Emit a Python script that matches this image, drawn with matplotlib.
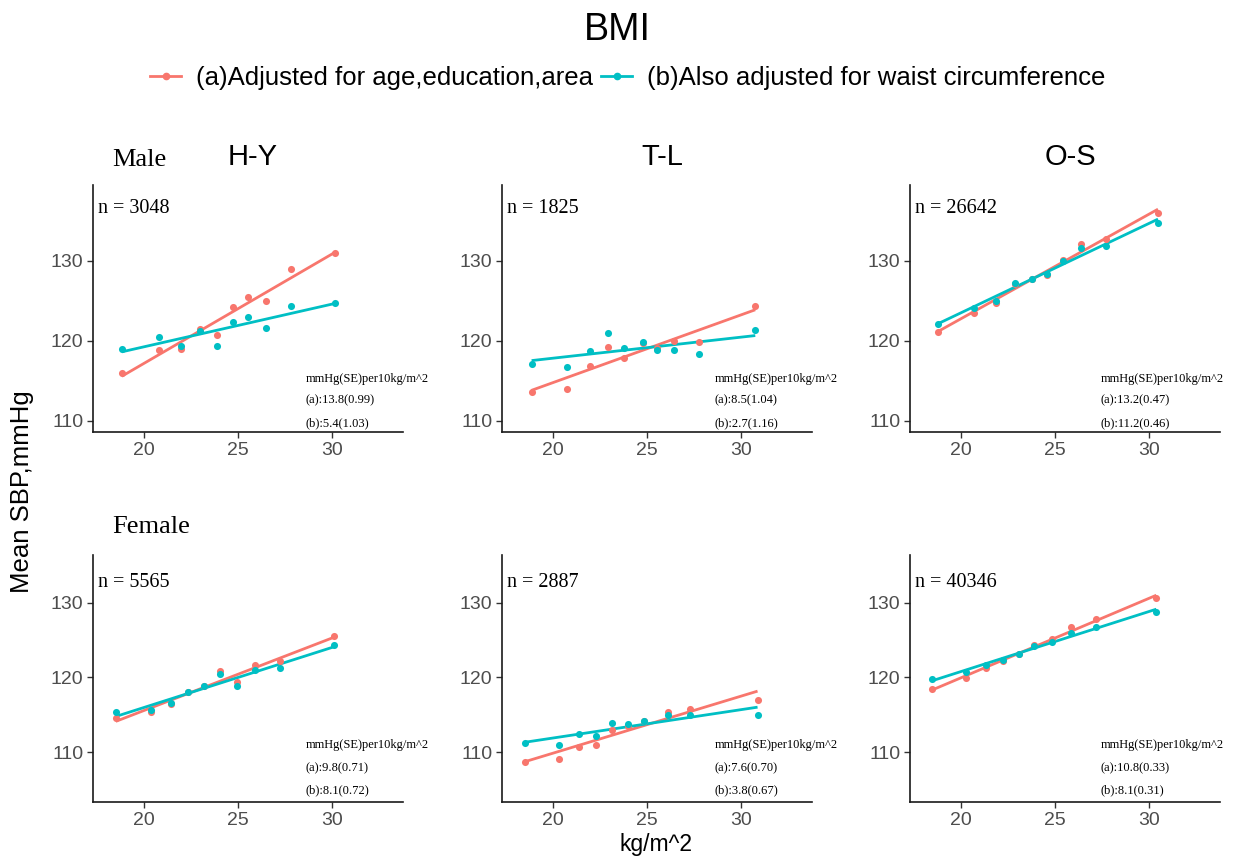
import matplotlib
matplotlib.use("Agg")
import matplotlib.pyplot as plt
import numpy as np
from matplotlib.lines import Line2D

# colours used by the two models
col_a = '#F8766D'
col_b = '#00BFC4'

# BMI group means (x) and mean SBP for model (a) and (b)
x_hy_male = [18.83, 20.78, 21.97, 22.99, 23.88, 24.75, 25.5, 26.5, 27.8, 30.16]
a_hy_male = [116.0, 118.9, 119.0, 121.5, 120.75, 124.3, 125.5, 125.0, 129.0, 131.0]
b_hy_male = [119.0, 120.5, 119.4, 121.2, 119.4, 122.4, 123.0, 121.6, 124.4, 124.75]

x_tl_male = [18.87, 20.74, 21.95, 22.94, 23.76, 24.77, 25.53, 26.45, 27.78, 30.74]
a_tl_male = [113.6, 114.0, 116.9, 119.2, 117.9, 119.7, 119.1, 120.0, 119.9, 124.4]
b_tl_male = [117.1, 116.7, 118.75, 120.95, 119.1, 119.8, 118.9, 118.8, 118.4, 121.3]

x_os_male = [18.79, 20.69, 21.88, 22.89, 23.76, 24.59, 25.41, 26.37, 27.7, 30.46]
a_os_male = [121.1, 123.5, 124.8, 127.1, 127.7, 128.3, 130.1, 132.1, 132.7, 136.0]
b_os_male = [122.1, 124.1, 125.0, 127.25, 127.7, 128.4, 130.0, 131.6, 131.9, 134.7]

x_hy_female = [18.51, 20.37, 21.44, 22.36, 23.21, 24.04, 24.93, 25.92, 27.2, 30.07]
a_hy_female = [114.6, 115.3, 116.4, 118.0, 118.8, 120.8, 119.4, 121.6, 122.2, 125.5]
b_hy_female = [115.4, 115.6, 116.5, 118.0, 118.8, 120.5, 118.8, 121.0, 121.3, 124.4]

x_tl_female = [18.54, 20.34, 21.37, 22.3, 23.15, 23.99, 24.86, 26.1, 27.29, 30.86]
a_tl_female = [108.7, 109.1, 110.7, 110.9, 113.0, 113.5, 114.2, 115.3, 115.7, 117.0]
b_tl_female = [111.2, 111.0, 112.4, 112.2, 113.9, 113.75, 114.2, 115.0, 114.95, 114.9]

x_os_female = [18.47, 20.27, 21.33, 22.25, 23.09, 23.9, 24.82, 25.83, 27.16, 30.37]
a_os_female = [118.5, 119.9, 121.2, 122.2, 123.1, 124.3, 125.1, 126.7, 127.8, 130.6]
b_os_female = [119.8, 120.75, 121.6, 122.35, 123.1, 124.2, 124.7, 126.0, 126.7, 128.8]

regions = ['H-Y', 'T-L', 'O-S']
sexes = ['Male', 'Female']
n_male = [3048, 1825, 26642]
n_female = [5565, 2887, 40346]
est_a_male = ['13.8(0.99)', '8.5(1.04)', '13.2(0.47)']
est_b_male = ['5.4(1.03)', '2.7(1.16)', '11.2(0.46)']
est_a_female = ['9.8(0.71)', '7.6(0.70)', '10.8(0.33)']
est_b_female = ['8.1(0.72)', '3.8(0.67)', '8.1(0.31)']
y_ticks = [110, 120, 130]
x_ticks = [20, 25, 30]

rows = [
    [(x_hy_male, a_hy_male, b_hy_male), (x_tl_male, a_tl_male, b_tl_male), (x_os_male, a_os_male, b_os_male)],
    [(x_hy_female, a_hy_female, b_hy_female), (x_tl_female, a_tl_female, b_tl_female), (x_os_female, a_os_female, b_os_female)],
]
ns = [n_male, n_female]
est_a = [est_a_male, est_a_female]
est_b = [est_b_male, est_b_female]

serif = ['Liberation Serif', 'DejaVu Serif']
sans = ['Liberation Sans', 'DejaVu Sans']
plt.rcParams['font.family'] = sans

W, H = 1234, 857
fig = plt.figure(figsize=(W / 100, H / 100), dpi=100)

lefts = [93, 502, 910]
bottoms = [432, 802]
ylims = [(108.6, 139.5), (103.3, 136.4)]
note_x = [28.6, 28.6, 27.4]
note_y = [[0.215, 0.128, 0.035], [0.23, 0.135, 0.048]]
n_y = [0.905, 0.89]

for r in range(2):
    for c in range(3):
        ax = fig.add_axes([lefts[c] / W, 1 - bottoms[r] / H, 310 / W, 247 / H])
        xs, ya, yb = rows[r][c]
        for yv, col in [(ya, col_a), (yb, col_b)]:
            xs_arr = np.array(xs)
            k, b0 = np.polyfit(xs_arr, np.array(yv), 1)
            xx = np.array([xs_arr.min(), xs_arr.max()])
            ax.plot(xx, k * xx + b0, color=col, lw=2, solid_capstyle='butt')
            ax.scatter(xs, yv, s=26, color=col, zorder=3, linewidths=0)
        ax.set_xlim(17.3, 33.75)
        ax.set_ylim(*ylims[r])
        ax.set_xticks(x_ticks)
        ax.set_yticks(y_ticks)
        for s in ['top', 'right']:
            ax.spines[s].set_visible(False)
        for s in ['left', 'bottom']:
            ax.spines[s].set_linewidth(1.2)
            ax.spines[s].set_color('#1a1a1a')
        ax.tick_params(direction='out', length=4, width=1.0, color='#333333',
                       labelcolor='#4D4D4D', labelsize=14, pad=3)
        ax.text(0.016, n_y[r], 'n = %d' % ns[r][c], transform=ax.transAxes,
                family=serif, fontsize=14.5, va='center', ha='left')
        notes = ['mmHg(SE)per10kg/m^2', '(a):' + est_a[r][c], '(b):' + est_b[r][c]]
        for t, yy in zip(notes, note_y[r]):
            ax.text(note_x[c], yy, t, transform=ax.get_xaxis_transform(), family=serif,
                    fontsize=9, va='center', ha='left', clip_on=False)

# titles and labels
fig.text(0.5, 1 - 30 / H, 'BMI', ha='center', va='center', fontsize=27)
for c, name in enumerate(regions):
    fig.text((lefts[c] + 160) / W, 1 - 157 / H, name, ha='center', va='center', fontsize=21)
fig.text(112 / W, 1 - 160 / H, sexes[0], family=serif, fontsize=19, ha='left', va='center')
fig.text(112 / W, 1 - 527 / H, sexes[1], family=serif, fontsize=19, ha='left', va='center')
fig.text(22 / W, 1 - 492 / H, 'Mean SBP,mmHg', rotation=90, ha='center', va='center', fontsize=18.5)
fig.text(656 / W, 1 - 845 / H, 'kg/m^2', ha='center', va='center', fontsize=16.5)

handles = [Line2D([], [], color=col_a, lw=2, marker='o', markersize=4.5),
           Line2D([], [], color=col_b, lw=2, marker='o', markersize=4.5)]
labels = ['(a)Adjusted for age,education,area', '(b)Also adjusted for waist circumference']
fig.legend(handles, labels, loc='center', bbox_to_anchor=(628 / W, 1 - 78 / H), ncol=2,
           frameon=False, fontsize=18.5, handlelength=1.2, handletextpad=0.6,
           columnspacing=0.3, borderaxespad=0)

fig.savefig('out.png', dpi=100)
